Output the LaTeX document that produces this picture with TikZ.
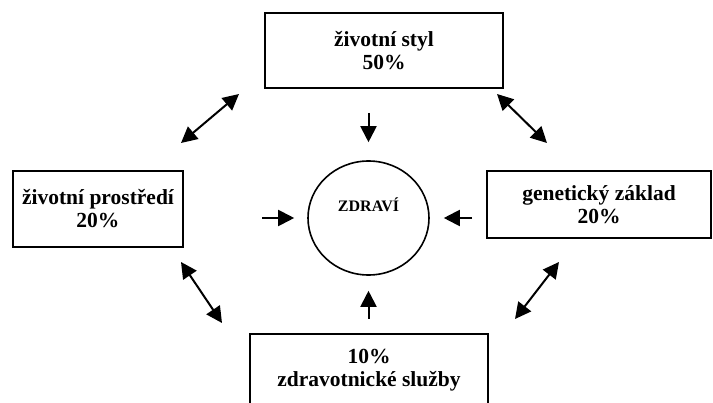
\documentclass[tikz,border=0pt]{standalone}
\usepackage{fontspec}
\setmainfont{Liberation Serif}
\usetikzlibrary{arrows.meta,shapes.geometric}
\tikzset{
  factor/.style={draw,line width=2pt,align=center,font=\fontsize{21.5}{23}\selectfont\bfseries},
  link/.style={line width=2pt}
}
\begin{document}
\begin{tikzpicture}[x=1pt,y=-1pt,>={Triangle[length=16pt,width=16pt]}]
  \useasboundingbox (0,0) rectangle (713,403);
  \clip (0,0) rectangle (713,403);
  \node[factor,minimum width=238pt,minimum height=75pt] (styl) at (384,50.5) {životní styl\\50\%};
  \node[factor,minimum width=170pt,minimum height=76pt] (prostredi) at (98,209) {životní prostředí\\20\%};
  \node[factor,minimum width=224pt,minimum height=67pt] (genetika) at (599,204.5) {genetický základ\\20\%};
  \node[factor,minimum width=238pt,minimum height=72pt] (sluzby) at (369,370) {10\%\\zdravotnické služby};
  \node[ellipse,draw,line width=1.6pt,minimum width=121pt,minimum height=114pt,
        text depth=26pt,font=\fontsize{16}{17}\selectfont\bfseries] (zdravi) at (368.5,218) {ZDRAVÍ};
  \draw[->,link,shorten <=24pt,shorten >=18pt] (styl.south -| zdravi.north) -- (zdravi.north);
  \draw[->,link,shorten <=78pt,shorten >=13pt] (prostredi.east |- zdravi.west) -- (zdravi.west);
  \draw[->,link,shorten <=14pt,shorten >=14pt] (genetika.west |- zdravi.east) -- (zdravi.east);
  \draw[->,link,shorten <=14pt,shorten >=15pt] (sluzby.north -| zdravi.south) -- (zdravi.south);
  \coordinate (a1) at (181,143);
  \coordinate (a2) at (239,94);
  \coordinate (b1) at (497,94);
  \coordinate (b2) at (547,143);
  \coordinate (c1) at (181,262);
  \coordinate (c2) at (222,323);
  \coordinate (d1) at (559,262);
  \coordinate (d2) at (515,319);
  \foreach \p/\q in {a1/a2,b1/b2,c1/c2,d1/d2} \draw[<->,link] (\p) -- (\q);
\end{tikzpicture}
\end{document}
